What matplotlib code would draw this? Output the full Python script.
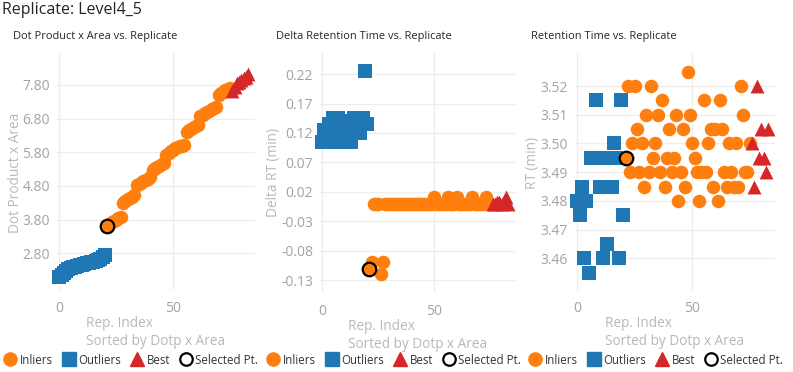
import numpy as np
from matplotlib import pyplot as plt
from matplotlib.lines import Line2D

plt.rcParams['font.family'] = ['Open Sans', 'DejaVu Sans']

# replicate index layout (sorted by dotp x area)
outlier_idx = list(range(0, 21))
inlier_idx = list(range(21, 76))
best_idx = list(range(76, 84))
selected_idx = 21

# Dot Product x Area
dotp_outliers = [2.10, 2.15, 2.22, 2.28, 2.32, 2.35, 2.38, 2.40, 2.42, 2.44, 2.46,
                 2.48, 2.50, 2.52, 2.53, 2.55, 2.57, 2.60, 2.64, 2.70, 2.74]
dotp_inliers = [3.60, 3.66, 3.72, 3.76, 3.80, 3.84, 3.88,
                4.30, 4.36, 4.40, 4.44, 4.48, 4.52,
                4.82, 4.86, 4.90, 4.94, 4.98, 5.02, 5.06,
                5.28, 5.32, 5.36, 5.40, 5.44, 5.48,
                5.72, 5.78, 5.84, 5.88, 5.92, 5.95, 5.98, 6.00, 6.02,
                6.40, 6.45, 6.50, 6.55, 6.58, 6.62,
                6.88, 6.92, 6.96, 7.00, 7.04, 7.08, 7.12, 7.15,
                7.50, 7.55, 7.60, 7.64, 7.68, 7.72]
dotp_best = [7.62, 7.75, 7.85, 7.90, 7.95, 8.00, 8.05, 8.12]

# Delta retention time (min)
drt_outliers = [0.105, 0.125, 0.105, 0.135, 0.12, 0.145, 0.13, 0.145, 0.105, 0.12, 0.105,
                0.125, 0.14, 0.105, 0.145, 0.13, 0.145, 0.12, 0.145, 0.225, 0.135]
drt_inliers = [-0.112, -0.10, 0.0, 0.0, 0.0, -0.12, -0.10] + [0.0] * 22 + [0.011] + [0.0] * 5 + \
              [0.011, 0.0, 0.0, 0.0, 0.011, 0.0, 0.0, 0.0, 0.0, 0.0, 0.0, 0.011, 0.0, 0.0, 0.0, 0.0, 0.0, 0.011, 0.0, 0.0]
drt_best = [0.0, 0.0, 0.002, 0.002, 0.0, 0.002, 0.012, 0.0]

# Retention time (min)
rt_outliers = [3.48, 3.475, 3.485, 3.46, 3.48, 3.455, 3.495, 3.495, 3.515, 3.495, 3.485,
               3.46, 3.485, 3.465, 3.495, 3.485, 3.50, 3.495, 3.46, 3.515, 3.475]
rt_inliers = [3.495, 3.52, 3.49, 3.50, 3.52, 3.505, 3.49, 3.50, 3.485, 3.51,
              3.49, 3.52, 3.495, 3.50, 3.51, 3.49, 3.515, 3.485, 3.495, 3.505,
              3.49, 3.495, 3.51, 3.48, 3.49, 3.505, 3.485, 3.525, 3.51, 3.50,
              3.495, 3.49, 3.48, 3.49, 3.515, 3.49, 3.50, 3.505, 3.485, 3.505,
              3.48, 3.515, 3.505, 3.49, 3.485, 3.50, 3.49, 3.485, 3.50, 3.485,
              3.52, 3.51, 3.49, 3.49, 3.50]
rt_best = [3.50, 3.485, 3.52, 3.495, 3.505, 3.495, 3.49, 3.505]

panels = [
    dict(title='Dot Product x Area vs. Replicate', ylabel='Dot Product x Area',
         out=dotp_outliers, inl=dotp_inliers, best=dotp_best,
         ylim=(1.71, 8.75), yticks=[2.8, 3.8, 4.8, 5.8, 6.8, 7.8],
         rect=(57, 53, 198, 237), ylab_pos=(-0.172, 0.494)),
    dict(title='Delta Retention Time vs. Replicate', ylabel='Delta RT (min)',
         out=drt_outliers, inl=drt_inliers, best=drt_best,
         ylim=(-0.152, 0.256), yticks=[-0.13, -0.08, -0.03, 0.02, 0.07, 0.12, 0.17, 0.22],
         rect=(320, 53, 195, 240), ylab_pos=(-0.2, 0.504)),
    dict(title='Retention Time vs. Replicate', ylabel='RT (min)',
         out=rt_outliers, inl=rt_inliers, best=rt_best,
         ylim=(3.449, 3.5315), yticks=[3.46, 3.47, 3.48, 3.49, 3.50, 3.51, 3.52],
         rect=(575, 53, 200, 237), ylab_pos=(-0.175, 0.536)),
]

ORANGE = '#ff7f0e'
BLUE = '#1f77b4'
RED = '#d62728'
GRAY = '#a3a3a3'
W, H = 793, 372

fig = plt.figure(figsize=(W / 100, H / 100), dpi=100)
fig.text(2 / W, 1 - 10 / H, 'Replicate: Level4_5', fontsize=11.5, color='#252525',
         ha='left', va='center')

legend_x = [5, 268, 530]
for i, p in enumerate(panels):
    x0, y0, w, h = p['rect']
    ax = fig.add_axes([x0 / W, 1 - (y0 + h) / H, w / W, h / H])
    ax.scatter(outlier_idx, p['out'], marker='s', s=110, color=BLUE, linewidths=0, zorder=2, clip_on=False)
    ax.scatter(inlier_idx, p['inl'], marker='o', s=95, color=ORANGE, linewidths=0, zorder=3, clip_on=False)
    ax.scatter(best_idx, p['best'], marker='^', s=100, color=RED, linewidths=0, zorder=4, clip_on=False)
    sel_y = p['inl'][inlier_idx.index(selected_idx)]
    ax.scatter([selected_idx], [sel_y], marker='o', s=95, facecolor=ORANGE, edgecolor='black',
               linewidths=1.6, zorder=5, clip_on=False)

    ax.set_xlim(-1, 86)
    ax.set_ylim(*p['ylim'])
    ax.set_xticks([0, 50])
    ax.set_yticks(p['yticks'])
    ax.set_yticklabels(['%.2f' % v for v in p['yticks']])
    ax.grid(True, color='#ededed', linewidth=0.9)
    ax.set_axisbelow(True)
    for s in ax.spines.values():
        s.set_visible(False)
    ax.tick_params(length=0, labelsize=10, labelcolor=GRAY)
    ax.tick_params(axis='x', pad=8)
    ax.tick_params(axis='y', pad=5)
    ax.set_xlabel('Rep. Index\nSorted by Dotp x Area', fontsize=9.8, color='#b8b8b8',
                  multialignment='left', labelpad=0, linespacing=1.3)
    ax.set_ylabel(p['ylabel'], fontsize=9.8, color='#b8b8b8')
    ax.yaxis.set_label_coords(*p['ylab_pos'])

    fig.text((x0 - 44) / W, 1 - 37 / H, p['title'], fontsize=7.9, color='#252525',
             ha='left', va='center')

    handles = [
        Line2D([], [], linestyle='none', marker='o', markersize=9.5, color=ORANGE, label='Inliers'),
        Line2D([], [], linestyle='none', marker='s', markersize=10, color=BLUE, label='Outliers'),
        Line2D([], [], linestyle='none', marker='^', markersize=10, color=RED, label='Best'),
        Line2D([], [], linestyle='none', marker='o', markersize=9, markerfacecolor='white',
               markeredgecolor='black', markeredgewidth=1.6, label='Selected Pt.'),
    ]
    fig.legend(handles=handles, loc='center left', ncol=4,
               bbox_to_anchor=(legend_x[i] / W, 1 - 360 / H), frameon=False,
               fontsize=8.3, handlelength=0.9, handletextpad=0.4, columnspacing=0.9,
               borderpad=0, borderaxespad=0, labelcolor='#333333')

fig.savefig('out.png', dpi=100)
